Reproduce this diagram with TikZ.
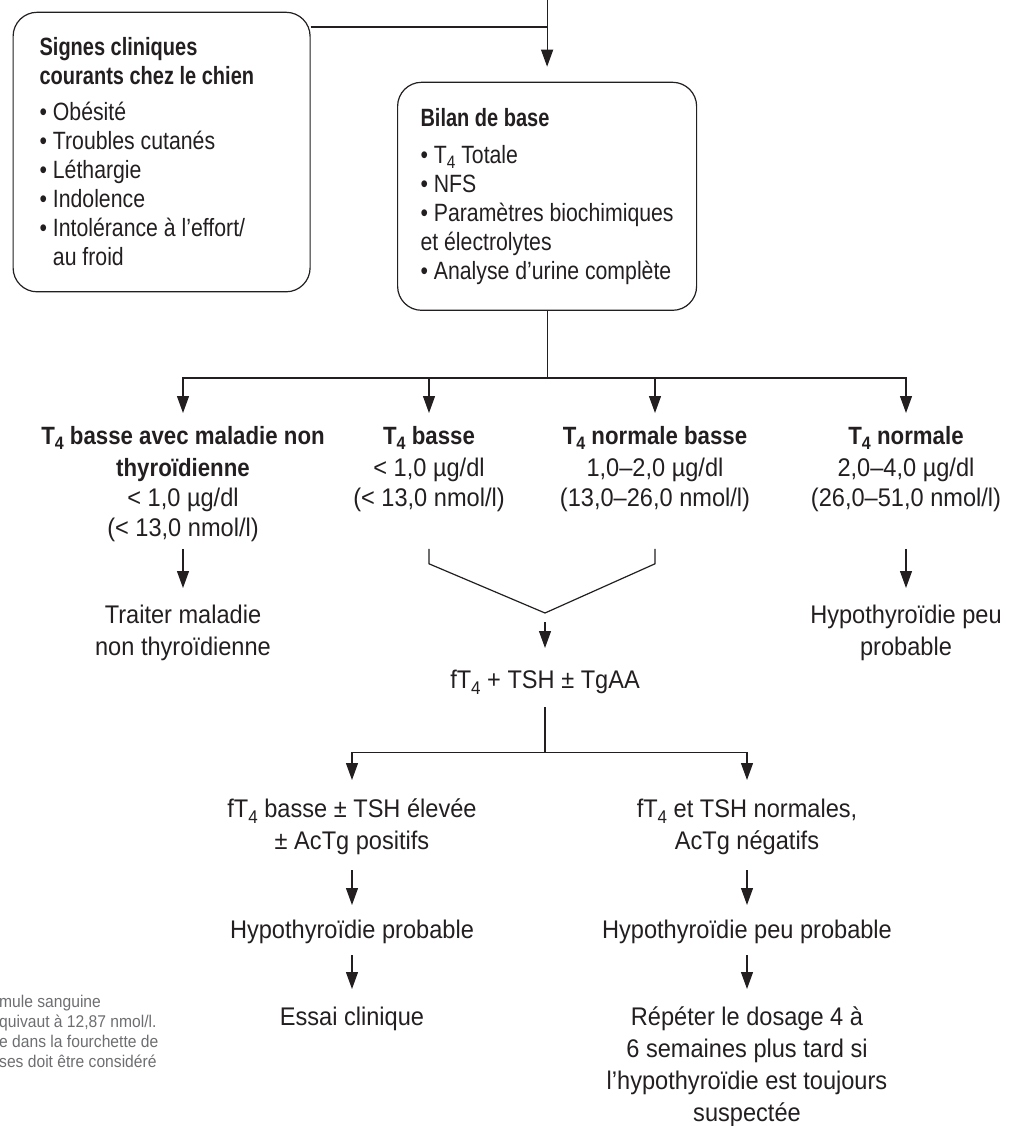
\documentclass[tikz,border=0pt]{standalone}
\usepackage{fontspec}
\setmainfont{Liberation Sans}[FakeStretch=0.925, BoldFeatures={FakeStretch=0.89}]
\newfontfamily\cardfont{Liberation Sans}[FakeStretch=0.85, BoldFeatures={FakeStretch=0.8}]
\newfontfamily\notefont{Liberation Sans}[FakeStretch=0.92]
\usepackage{graphicx}
\usetikzlibrary{arrows.meta}
\definecolor{ink}{HTML}{231F20}
\definecolor{note-gray}{HTML}{6D6E71}
\newcommand\tq{T\raisebox{-0.22em}{\scalebox{0.72}{4}}}
\newcommand\hd[1]{{\fontsize{25}{30}\selectfont\bfseries #1}}

\begin{document}
\begin{tikzpicture}[x=1pt, y=-1pt, every node/.style={text=ink},
    wire/.style={draw=ink, line width=1.2pt},
    flow/.style={wire, -{Triangle[length=17pt, width=12pt]}},
    card/.style={draw=ink, line width=1.2pt, rounded corners=24pt, anchor=north west,
      align=flush left, inner ysep=24pt, font=\cardfont\fontsize{25}{29}\selectfont},
    outcome/.style={anchor=north, align=center, inner sep=0pt, font=\fontsize{25.5}{32}\selectfont},
    assay/.style={outcome, font=\fontsize{25.5}{30}\selectfont},
    fragment/.style={anchor=north west, align=left, inner sep=0pt, text=note-gray,
      font=\notefont\fontsize{17}{20}\selectfont}]
  \useasboundingbox (0,0) rectangle (1011,1126);

  \node[card, text width=244pt, inner xsep=26.5pt, minimum height=279.5pt]
    (signes) at (12.5,11.7) {\textbf{Signes cliniques}\\
      \textbf{courants chez le chien}\\[7pt]
      • Obésité\\ • Troubles cutanés\\ • Léthargie\\ • Indolence\\
      • Intolérance à l’effort/\\ \phantom{• }au froid};
  \node[card, minimum width=299pt, minimum height=228pt]
    (bilan) at (397,81.7) {\textbf{Bilan de base}\\[8pt]
      • \tq\ Totale\\ • NFS\\ • Paramètres biochimiques\\ et électrolytes\\
      • Analyse d’urine complète};

  \coordinate (entry) at (bilan.north |- 0,0);
  \coordinate (join) at (bilan.north |- 0,27);
  \draw[wire] (join -| signes.east) -- (join);
  \draw[flow, shorten >=15pt] (entry) -- (bilan.north);

  \node[assay] (h1) at (183,426) {\hd{\tq\ basse avec maladie non}\\[2pt]
    \hd{thyroïdienne}\\ < 1,0 µg/dl\\ (< 13,0 nmol/l)};
  \node[assay] (h2) at (429,426) {\hd{\tq\ basse}\\[2pt] < 1,0 µg/dl\\ (< 13,0 nmol/l)};
  \node[assay] (h3) at (655,426) {\hd{\tq\ normale basse}\\[2pt] 1,0–2,0 µg/dl\\ (13,0–26,0 nmol/l)};
  \node[assay] (h4) at (906,426) {\hd{\tq\ normale}\\[2pt] 2,0–4,0 µg/dl\\ (26,0–51,0 nmol/l)};

  \coordinate (split) at ([yshift=-67pt]bilan.south);
  \draw[wire] (bilan.south) -- (split);
  \draw[flow, shorten >=13pt] (split) -| (h1.north);
  \draw[flow, shorten >=13pt] (split) -| (h2.north);
  \draw[flow, shorten >=13pt] (split) -| (h3.north);
  \draw[flow, shorten >=13pt] (split) -| (h4.north);

  \node[outcome] (treat) at (183,605) {Traiter maladie\\ non thyroïdienne};
  \node[outcome] (rare) at (906,605) {Hypothyroïdie peu\\ probable};
  \draw[flow, shorten <=7pt, shorten >=17pt] (h1.south) -- (treat.north);
  \draw[flow, shorten <=37pt, shorten >=17pt] (h4.south) -- (rare.north);

  \coordinate (vee) at (545,613);
  \node[outcome] (ft) at (545,670) {f\tq\ + TSH ± TgAA};
  \draw[wire] ([yshift=-37pt]h2.south) -- ([yshift=-52pt]h2.south) -- (vee)
    -- ([yshift=-52pt]h3.south) -- ([yshift=-37pt]h3.south);
  \draw[flow, shorten <=9pt, shorten >=22pt] (vee) -- (ft.north);

  \node[outcome] (lowfree) at (352,799) {f\tq\ basse ± TSH élevée\\ ± AcTg positifs};
  \node[outcome] (normfree) at (747,799) {f\tq\ et TSH normales,\\ AcTg négatifs};
  \coordinate (split2) at ([yshift=-58pt]ft.south);
  \draw[wire, shorten <=13pt] (ft.south) -- (split2);
  \draw[flow, shorten >=19pt] (split2) -| (lowfree.north);
  \draw[flow, shorten >=19pt] (split2) -| (normfree.north);

  \node[outcome] (likely) at (352,920) {Hypothyroïdie probable};
  \node[outcome] (unlikely) at (747,920) {Hypothyroïdie peu probable};
  \draw[flow, shorten <=15pt, shorten >=15pt] (lowfree.south) -- (likely.north);
  \draw[flow, shorten <=15pt, shorten >=15pt] (normfree.south) -- (unlikely.north);

  \node[outcome] (trial) at (352,1007) {Essai clinique};
  \node[outcome] (repeat) at (747,1007) {Répéter le dosage 4 à\\
    6 semaines plus tard si\\ l’hypothyroïdie est toujours\\ suspectée};
  \draw[flow, shorten <=11pt, shorten >=18pt] (likely.south) -- (trial.north);
  \draw[flow, shorten <=11pt, shorten >=18pt] (unlikely.south) -- (repeat.north);

  \node[fragment] (note) at (-1,995) {mule sanguine\\ quivaut à 12,87 nmol/l.\\
    e dans la fourchette de\\ ses doit être considéré};
\end{tikzpicture}
\end{document}
